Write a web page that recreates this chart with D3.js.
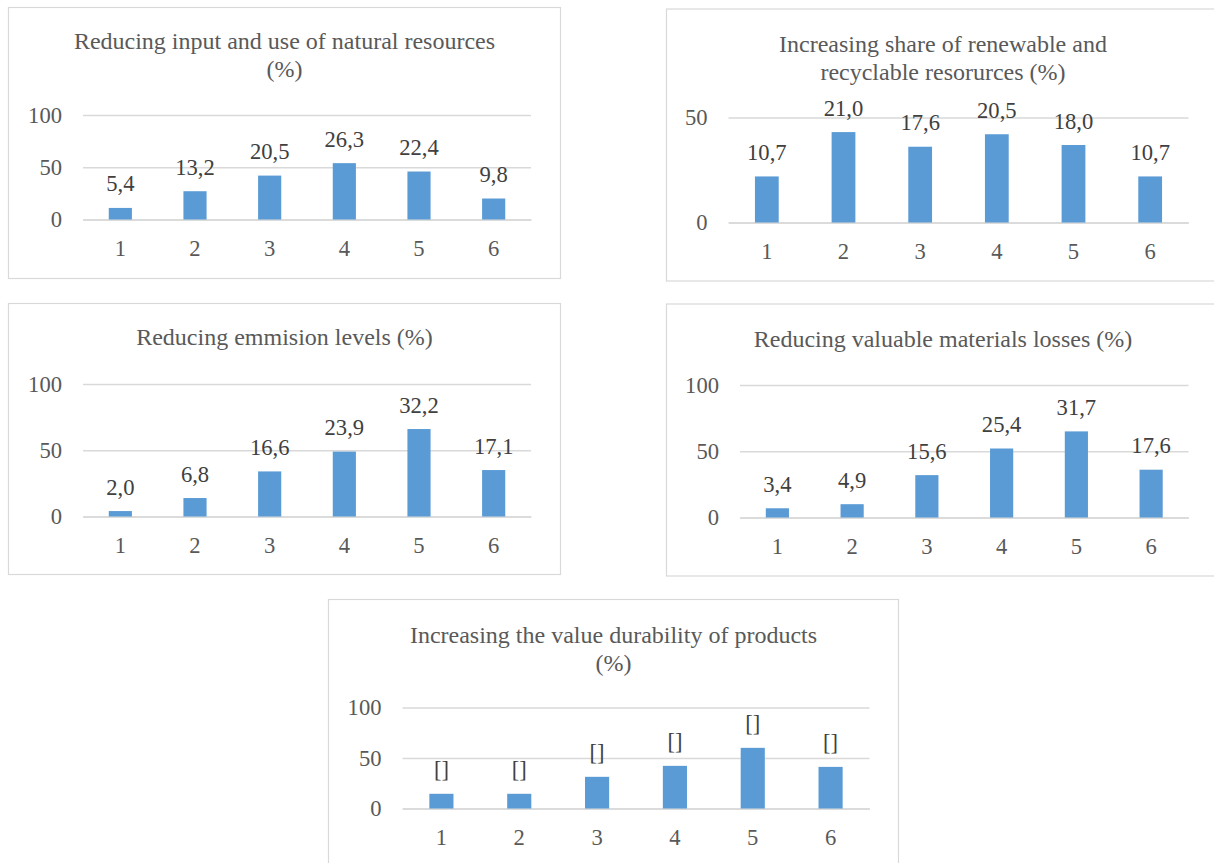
<!DOCTYPE html>
<html>
<head>
<meta charset="utf-8">
<script src="https://cdn.jsdelivr.net/npm/d3@7"></script>
<style>
  html, body { margin: 0; padding: 0; background: #ffffff; }
  svg { display: block; }
</style>
</head>
<body>
<svg id="chart" width="1214" height="863"></svg>
<script>
// Survey answers (share of respondents, %) for each of the six ranks
const categories = ["1", "2", "3", "4", "5", "6"];
const naturalResources = [5.4, 13.2, 20.5, 26.3, 22.4, 9.8];
const renewableShare = [10.7, 21.0, 17.6, 20.5, 18.0, 10.7];
const emissionLevels = [2.0, 6.8, 16.6, 23.9, 32.2, 17.1];
const materialLosses = [3.4, 4.9, 15.6, 25.4, 31.7, 17.6];
const productDurability = [7.1, 7.1, 15.3, 20.6, 29.3, 20.1];

// Bars are plotted as respondent counts out of the whole sample
const respondents = 205;

// Value-axis ticks
const ticksTo100 = [0, 50, 100];
const ticksTo50 = [0, 50];

// Panel titles (one entry per line)
const titleNatural = ["Reducing input and use of natural resources", "(%)"];
const titleRenewable = ["Increasing share of renewable and", "recyclable resorurces (%)"];
const titleEmission = ["Reducing emmision levels (%)"];
const titleLosses = ["Reducing valuable materials losses (%)"];
const titleDurability = ["Increasing the value durability of products", "(%)"];

// Text shown above each bar
const fmt = v => d3.format(".1f")(v).replace(".", ",");
const labelsFrom = arr => arr.map(fmt);
const missingLabels = categories.map(() => "[]");

const panels = [
  { title: titleNatural, values: naturalResources, labels: labelsFrom(naturalResources), ticks: ticksTo100,
    box: [8.5, 7.5, 552, 271], plot: { x0: 83, x1: 531, yBase: 219.5, yTop: 115 }, titleY: 49, cx: 284.5 },
  { title: titleRenewable, values: renewableShare, labels: labelsFrom(renewableShare), ticks: ticksTo50,
    box: [666.5, 9, 554, 272], plot: { x0: 728.5, x1: 1188.5, yBase: 222.5, yTop: 117.5 }, titleY: 51.5, cx: 943 },
  { title: titleEmission, values: emissionLevels, labels: labelsFrom(emissionLevels), ticks: ticksTo100,
    box: [8.5, 303.5, 552, 271], plot: { x0: 83, x1: 531, yBase: 516.5, yTop: 384 }, titleY: 345, cx: 284.5 },
  { title: titleLosses, values: materialLosses, labels: labelsFrom(materialLosses), ticks: ticksTo100,
    box: [666.5, 304, 554, 272], plot: { x0: 740, x1: 1188.5, yBase: 517.5, yTop: 385 }, titleY: 347, cx: 943 },
  { title: titleDurability, values: productDurability, labels: missingLabels, ticks: ticksTo100,
    box: [328.5, 599.5, 570, 280], plot: { x0: 402.5, x1: 869.5, yBase: 808.5, yTop: 707.5 }, titleY: 643, cx: 613.5 }
];

const FAMILY = "Liberation Serif, Times New Roman, serif";
const TITLE_SIZE = 24;
const FONT = 22.6;
const grid = "#d9d9d9";

const svg = d3.select("#chart").attr("font-family", FAMILY);

panels.forEach(p => {
  const g = svg.append("g");

  // frame
  g.append("rect")
    .attr("x", p.box[0]).attr("y", p.box[1])
    .attr("width", p.box[2]).attr("height", p.box[3])
    .attr("fill", "#ffffff").attr("stroke", grid).attr("stroke-width", 1.2);

  // title
  const t = g.append("text")
    .attr("x", p.cx).attr("y", p.titleY)
    .attr("text-anchor", "middle")
    .attr("fill", "#595959")
    .attr("font-family", FAMILY)
    .attr("font-size", TITLE_SIZE);
  p.title.forEach((line, i) => {
    t.append("tspan").attr("x", p.cx).attr("dy", i === 0 ? 0 : 28).text(line);
  });

  const x = d3.scaleBand()
    .domain(categories)
    .range([p.plot.x0, p.plot.x1])
    .paddingInner(0.69)
    .paddingOuter(0.345);

  const yMax = d3.max(p.ticks);
  const y = d3.scaleLinear().domain([0, yMax]).range([p.plot.yBase, p.plot.yTop]);

  // value axis: gridlines + tick labels
  const yAxis = d3.axisLeft(y)
    .tickValues(p.ticks)
    .tickSize(-(p.plot.x1 - p.plot.x0))
    .tickPadding(21)
    .tickFormat(d3.format("d"));
  const ya = g.append("g")
    .attr("transform", `translate(${p.plot.x0},0)`)
    .call(yAxis)
    .attr("font-family", FAMILY)
    .attr("font-size", FONT);
  ya.select(".domain").remove();
  ya.selectAll(".tick line").attr("stroke", grid).attr("stroke-width", 1.3);
  ya.selectAll(".tick text").attr("fill", "#595959");

  // category axis
  const xAxis = d3.axisBottom(x).tickSize(0).tickPadding(0);
  const xa = g.append("g")
    .attr("transform", `translate(0,${p.plot.yBase})`)
    .call(xAxis)
    .attr("font-family", FAMILY)
    .attr("font-size", FONT);
  xa.select(".domain").attr("stroke", grid).attr("stroke-width", 1.3);
  xa.selectAll(".tick text")
    .attr("y", 36).attr("dy", 0)
    .attr("fill", "#595959");

  const rows = categories.map((c, i) => ({
    cat: c,
    count: p.values[i] * respondents / 100,
    label: p.labels[i]
  }));

  // bars
  g.selectAll("rect.bar").data(rows).join("rect")
    .attr("class", "bar")
    .attr("x", d => x(d.cat))
    .attr("width", x.bandwidth())
    .attr("y", d => y(d.count))
    .attr("height", d => y(0) - y(d.count))
    .attr("fill", "#5b9bd5");

  // value labels
  g.selectAll("text.val").data(rows).join("text")
    .attr("class", "val")
    .attr("x", d => x(d.cat) + x.bandwidth() / 2)
    .attr("y", d => y(d.count) - 16.5)
    .attr("text-anchor", "middle")
    .attr("fill", "#404040")
    .attr("font-family", FAMILY)
    .attr("font-size", FONT)
    .text(d => d.label);
});
</script>
</body>
</html>
